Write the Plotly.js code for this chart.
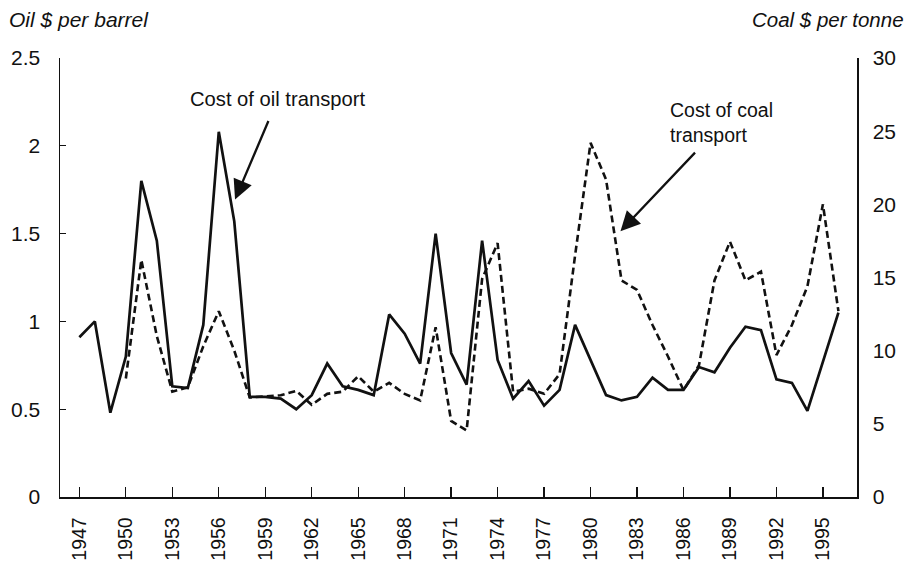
<!DOCTYPE html>
<html>
<head>
<meta charset="utf-8">
<script src="https://cdn.plot.ly/plotly-3.0.1.min.js"></script>
<style>html,body{margin:0;padding:0;background:#fff;}#chart{width:908px;height:561px;}</style>
</head>
<body>
<div id="chart"></div>
<script>
// Years for the oil series (1947-1996)
const oilYears = [1947,1948,1949,1950,1951,1952,1953,1954,1955,1956,
                  1957,1958,1959,1960,1961,1962,1963,1964,1965,1966,
                  1967,1968,1969,1970,1971,1972,1973,1974,1975,1976,
                  1977,1978,1979,1980,1981,1982,1983,1984,1985,1986,
                  1987,1988,1989,1990,1991,1992,1993,1994,1995,1996];
// Cost of oil transport, $ per barrel (left axis)
const oilCost = [0.91,1.00,0.48,0.80,1.80,1.46,0.63,0.62,0.98,2.08,
                 1.57,0.57,0.57,0.56,0.50,0.58,0.76,0.63,0.61,0.58,
                 1.04,0.93,0.76,1.50,0.82,0.64,1.46,0.78,0.56,0.66,
                 0.52,0.61,0.98,0.78,0.58,0.55,0.57,0.68,0.61,0.61,
                 0.74,0.71,0.85,0.97,0.95,0.67,0.65,0.49,0.77,1.05];
// Years for the coal series (1950-1996)
const coalYears = [1950,1951,1952,1953,1954,1955,1956,
                   1957,1958,1959,1960,1961,1962,1963,1964,1965,1966,
                   1967,1968,1969,1970,1971,1972,1973,1974,1975,1976,
                   1977,1978,1979,1980,1981,1982,1983,1984,1985,1986,
                   1987,1988,1989,1990,1991,1992,1993,1994,1995,1996];
// Cost of coal transport, $ per tonne (right axis)
const coalCost = [8.1,16.2,11.0,7.2,7.5,10.3,12.7,
                  10.0,6.8,6.85,6.95,7.25,6.3,7.05,7.2,8.25,7.2,
                  7.8,7.05,6.6,11.6,5.2,4.55,14.9,17.35,7.2,7.4,
                  7.05,8.4,16.5,24.2,21.7,14.8,14.15,11.75,9.6,7.3,
                  9.0,14.8,17.45,14.8,15.4,9.7,11.75,14.4,20.0,12.7];
// Tick labels
const xTickVals = [1947,1950,1953,1956,1959,1962,1965,1968,1971,1974,1977,1980,1983,1986,1989,1992,1995];
const xTickText = xTickVals.map(String);
const yLeftVals = [0,0.5,1,1.5,2,2.5];
const yLeftText = ['0','0.5','1','1.5','2','2.5'];
const yRightVals = [0,5,10,15,20,25,30];
const yRightText = ['0','5','10','15','20','25','30'];

const FONT = 'Liberation Sans, Arial, Helvetica, sans-serif';

const traces = [
  {
    x: oilYears, y: oilCost, type: 'scatter', mode: 'lines', name: 'Cost of oil transport',
    line: {color: '#111', width: 2.7}, yaxis: 'y'
  },
  {
    x: coalYears, y: coalCost, type: 'scatter', mode: 'lines', name: 'Cost of coal transport',
    line: {color: '#111', width: 2.6, dash: '7px,4px'}, yaxis: 'y2'
  }
];

const layout = {
  width: 908, height: 561,
  margin: {l: 60, r: 51, t: 58, b: 63.5},
  paper_bgcolor: '#fff', plot_bgcolor: '#fff',
  showlegend: false,
  font: {family: FONT, color: '#111', size: 19},
  xaxis: {
    range: [1945.75, 1997.2],
    tickmode: 'array', tickvals: xTickVals, ticktext: xTickText,
    tickangle: -90,
    ticks: 'inside', ticklen: 10, tickwidth: 1.3, tickcolor: '#111',
    showline: true, linecolor: '#111', linewidth: 1.5,
    showgrid: false, zeroline: false,
    tickfont: {family: FONT, size: 19.5, color: '#111'},
    ticklabelstandoff: 11
  },
  yaxis: {
    range: [0, 2.5],
    tickmode: 'array', tickvals: yLeftVals, ticktext: yLeftText,
    ticks: 'inside', ticklen: 6, tickwidth: 1.3, tickcolor: '#111',
    showline: true, linecolor: '#111', linewidth: 1.5,
    showgrid: false, zeroline: false,
    tickfont: {family: FONT, size: 21, color: '#111'},
    ticklabelstandoff: 14
  },
  yaxis2: {
    range: [0, 30], overlaying: 'y', side: 'right',
    tickmode: 'array', tickvals: yRightVals, ticktext: yRightText,
    ticks: '',
    showline: true, linecolor: '#111', linewidth: 1.5,
    showgrid: false, zeroline: false,
    tickfont: {family: FONT, size: 21, color: '#111'},
    ticklabelstandoff: 10
  },
  annotations: [
    {xref: 'paper', yref: 'paper', x: -0.066, y: 1.088, xanchor: 'left', yanchor: 'middle',
     text: 'Oil $ per barrel', showarrow: false, font: {family: FONT, size: 21, style: 'italic', color: '#111'}},
    {xref: 'paper', yref: 'paper', x: 1.061, y: 1.088, xanchor: 'right', yanchor: 'middle',
     text: 'Coal $ per tonne', showarrow: false, font: {family: FONT, size: 20.5, style: 'italic', color: '#111'}},
    {xref: 'x', yref: 'y', x: 1959.82, y: 2.264, xanchor: 'center', yanchor: 'middle',
     text: 'Cost of oil transport', showarrow: false, font: {family: FONT, size: 20.2, color: '#111'}},
    {xref: 'x', yref: 'y', x: 1957.05, y: 1.694, ax: 34, ay: -80, text: '', showarrow: true,
     arrowhead: 2, arrowsize: 1.7, arrowwidth: 2.3, arrowcolor: '#111'},
    {xref: 'x', yref: 'y', x: 1984.98, y: 2.135, xanchor: 'left', yanchor: 'middle', align: 'left',
     text: 'Cost of coal<br>transport', showarrow: false, font: {family: FONT, size: 19.5, color: '#111'}},
    {xref: 'x', yref: 'y', x: 1981.93, y: 1.514, ax: 76, ay: -80, text: '', showarrow: true,
     arrowhead: 2, arrowsize: 1.7, arrowwidth: 2.3, arrowcolor: '#111'}
  ]
};

Plotly.newPlot('chart', traces, layout, {displayModeBar: false, staticPlot: true});
</script>
</body>
</html>
